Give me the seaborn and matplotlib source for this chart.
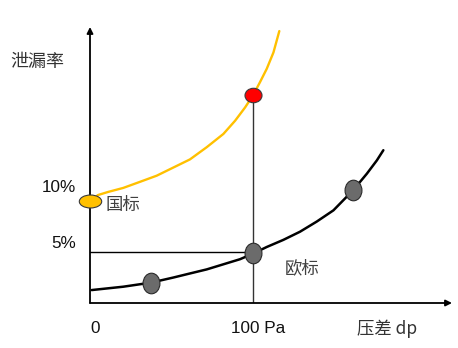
import numpy as np
import pandas as pd
import matplotlib
matplotlib.use("Agg")
import matplotlib.pyplot as plt
import seaborn as sns
from matplotlib.path import Path
from matplotlib.markers import MarkerStyle
from matplotlib.transforms import Affine2D

# ---- data (x: pressure difference in Pa, y: leakage rate in %) ----
gb_x = [0, 4.9, 11.0, 20.4, 30.7, 40.9, 51.1, 61.3, 71.6, 81.8, 89.0, 95.1,
        100, 104.3, 108.4, 112.5, 114.9, 116.1]
gb_y = [10.0, 10.6, 10.9, 11.3, 11.9, 12.5, 13.3, 14.1, 15.3, 16.6, 17.9, 19.2,
        20.4, 21.7, 23.0, 24.6, 26.0, 26.7]
eu_x = [1.0, 20.4, 37.4, 51.1, 61.3, 71.6, 81.8, 92.0, 100, 108.4, 118.6, 128.8,
        139.1, 149.3, 161.5, 169.8, 175.9, 179.9]
eu_y = [1.27, 1.6, 2.0, 2.5, 2.9, 3.3, 3.8, 4.3, 4.85, 5.5, 6.2, 7.0,
        8.0, 9.1, 11.1, 12.7, 14.0, 15.0]
eu_pts_x = [37.4, 100, 161.5]
eu_pts_y = [2.0, 4.9, 11.1]
gb_start = (0, 10.0)
gb_point = (100, 20.4)
ref_x = 100
ref_y = 5.0
ytick_labels = ["10%", "5%"]
ytick_vals = [10, 5]
xtick_labels = ["0", "100 Pa"]
xtick_vals = [0, 100]

sns.set_theme(style="white")
plt.rcParams['font.family'] = ['Liberation Sans', 'Noto Sans CJK SC', 'DejaVu Sans']

fig = plt.figure(figsize=(4.58, 3.48), dpi=100)
ax = fig.add_axes([90/458, 1-303/348, 362/458, 276/348])
ax.set_xlim(0, 222)
ax.set_ylim(0, 27.1)
for s in ax.spines.values():
    s.set_visible(False)
ax.set_xticks([]); ax.set_yticks([])
ax.patch.set_alpha(0)

# axes with arrows
ax.annotate("", xy=(0, 1), xytext=(0, 0), xycoords="axes fraction",
            arrowprops=dict(arrowstyle="-|>", color="black", lw=1.3,
                            mutation_scale=9, shrinkA=0, shrinkB=0))
ax.annotate("", xy=(1, 0), xytext=(0, 0), xycoords="axes fraction",
            arrowprops=dict(arrowstyle="-|>", color="black", lw=1.3,
                            mutation_scale=9, shrinkA=0, shrinkB=0))

# reference lines
ax.plot([0, ref_x], [ref_y, ref_y], color="black", lw=1.0, zorder=2)
ax.plot([ref_x, ref_x], [0, gb_point[1]], color="#333333", lw=1.0, zorder=2)

# curves
sns.lineplot(x=gb_x, y=gb_y, ax=ax, color="#FFC000", lw=1.7, sort=False, zorder=3)
sns.lineplot(x=eu_x, y=eu_y, ax=ax, color="black", lw=1.8, sort=False, zorder=3)

# ellipse markers
circ = Path.unit_circle()
def ell(sx, sy):
    return MarkerStyle(Path(Affine2D().scale(sx, sy).transform(circ.vertices), circ.codes))

ax.scatter([gb_start[0]], [gb_start[1]], marker=ell(1.0, 0.58), s=260,
           facecolor="#FFC000", edgecolor="#3a3a3a", linewidth=0.8, zorder=5, clip_on=False)
ax.scatter([gb_point[0]], [gb_point[1]], marker=ell(1.0, 0.85), s=150,
           facecolor="#FF0000", edgecolor="#3a3a3a", linewidth=0.8, zorder=5)
sns.scatterplot(x=eu_pts_x, y=eu_pts_y, ax=ax, marker=ell(0.82, 1.0), s=220,
                color="#6b6b6b", edgecolor="#2a2a2a", linewidth=0.8, zorder=5)

# texts
fs = 12.3
fig.text(10/458, 1-62/348, "泄漏率", fontsize=13, color="#333333",
         family=['Noto Sans CJK SC'], va="center", ha="left")
for lab, v, yy in zip(ytick_labels, ytick_vals, [11.3, 5.8]):
    ax.text(-8.6, yy, lab, fontsize=fs, ha="right", va="center", color="#111111")
for lab, v in zip(xtick_labels, xtick_vals):
    ax.text(v + 3, -2.55, lab, fontsize=fs, ha="center",
            va="center", color="#111111")
ax.text(164, -2.55, "压差 dp", fontsize=12.5, ha="left", va="center", color="#333333",
        family=['Noto Sans CJK SC', 'DejaVu Sans'], clip_on=False)
ax.text(9.2, 9.6, "国标", fontsize=12.5, ha="left", va="center", color="#404040",
        family=['Noto Sans CJK SC'])
ax.text(119.6, 3.4, "欧标", fontsize=12.5, ha="left", va="center", color="#404040",
        family=['Noto Sans CJK SC'])

fig.savefig("out.png", dpi=100, facecolor="white")
